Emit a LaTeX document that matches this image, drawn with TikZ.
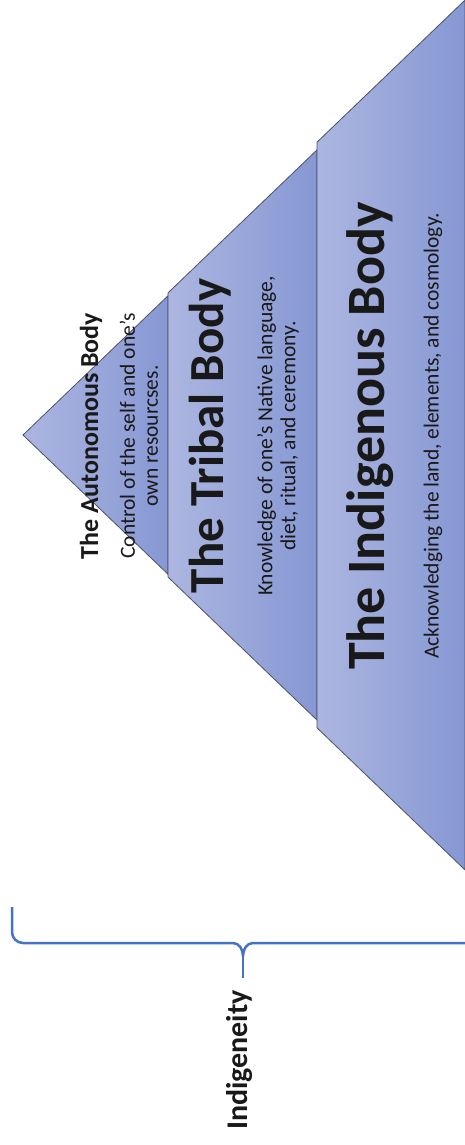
\documentclass[tikz,border=0pt]{standalone}
\usepackage{fontspec}
\setmainfont{Carlito}
\definecolor{segleft}{RGB}{172,182,224}
\definecolor{segright}{RGB}{134,151,211}
\definecolor{segline}{RGB}{72,82,112}
\definecolor{bracecol}{RGB}{68,114,196}
\definecolor{ink}{RGB}{25,25,25}
\begin{document}
\begin{tikzpicture}[x=1pt,y=1pt,
  seg/.style={draw=segline, line width=0.8pt, left color=segleft, right color=segright},
  title/.style={rotate=90, inner sep=0pt, text=ink, font=\bfseries\fontsize{#1}{#1}\selectfont},
  desc/.style={rotate=90, inner sep=0pt, text=ink, align=center, font=\fontsize{21.5}{23}\selectfont},
  brace/.style={draw=bracecol, line width=2.5pt, line join=round}]
\useasboundingbox (0,0) rectangle (465,-1145);

% pyramid, lying on its side: apex at the left, base on the right
\path[seg] (23,-435) -- (168,-295.8) -- (168,-574.2) -- cycle;
\path[seg] (168,-292.9) -- (317,-149.9) -- (317,-720.1) -- (168,-577.1) -- cycle;
\path[seg] (317,-142.2) -- (465,-0.1) -- (465,-869.9) -- (317,-727.8) -- cycle;

% level labels
\node[title=26] (t1) at (91,-436) {The Autonomous Body};
\node[desc] (d1) at (139,-436) {Control of the self and one's\\own resourcses.};
\node[title=49] (t2) at (210,-436) {The Tribal Body};
\node[desc] (d2) at (278,-436) {Knowledge of one's Native language,\\diet, ritual, and ceremony.};
\node[title=54] (t3) at (370,-436) {The Indigenous Body};
\node[desc] (d3) at (433,-436) {Acknowledging the land, elements, and cosmology.};

% brace grouping all levels
\node[title=30] (ind) at (240,-1060) {Indigeneity};
\coordinate (stem) at (243,-978);
\draw[brace] (12,-907) -- (12,-932) to[out=-90,in=180] (23,-943) -- (233,-943)
  to[out=0,in=90] (243,-956) to[out=90,in=180] (253,-943) -- (475,-943);
\draw[brace] (243,-956) -- (stem);
\end{tikzpicture}
\end{document}
